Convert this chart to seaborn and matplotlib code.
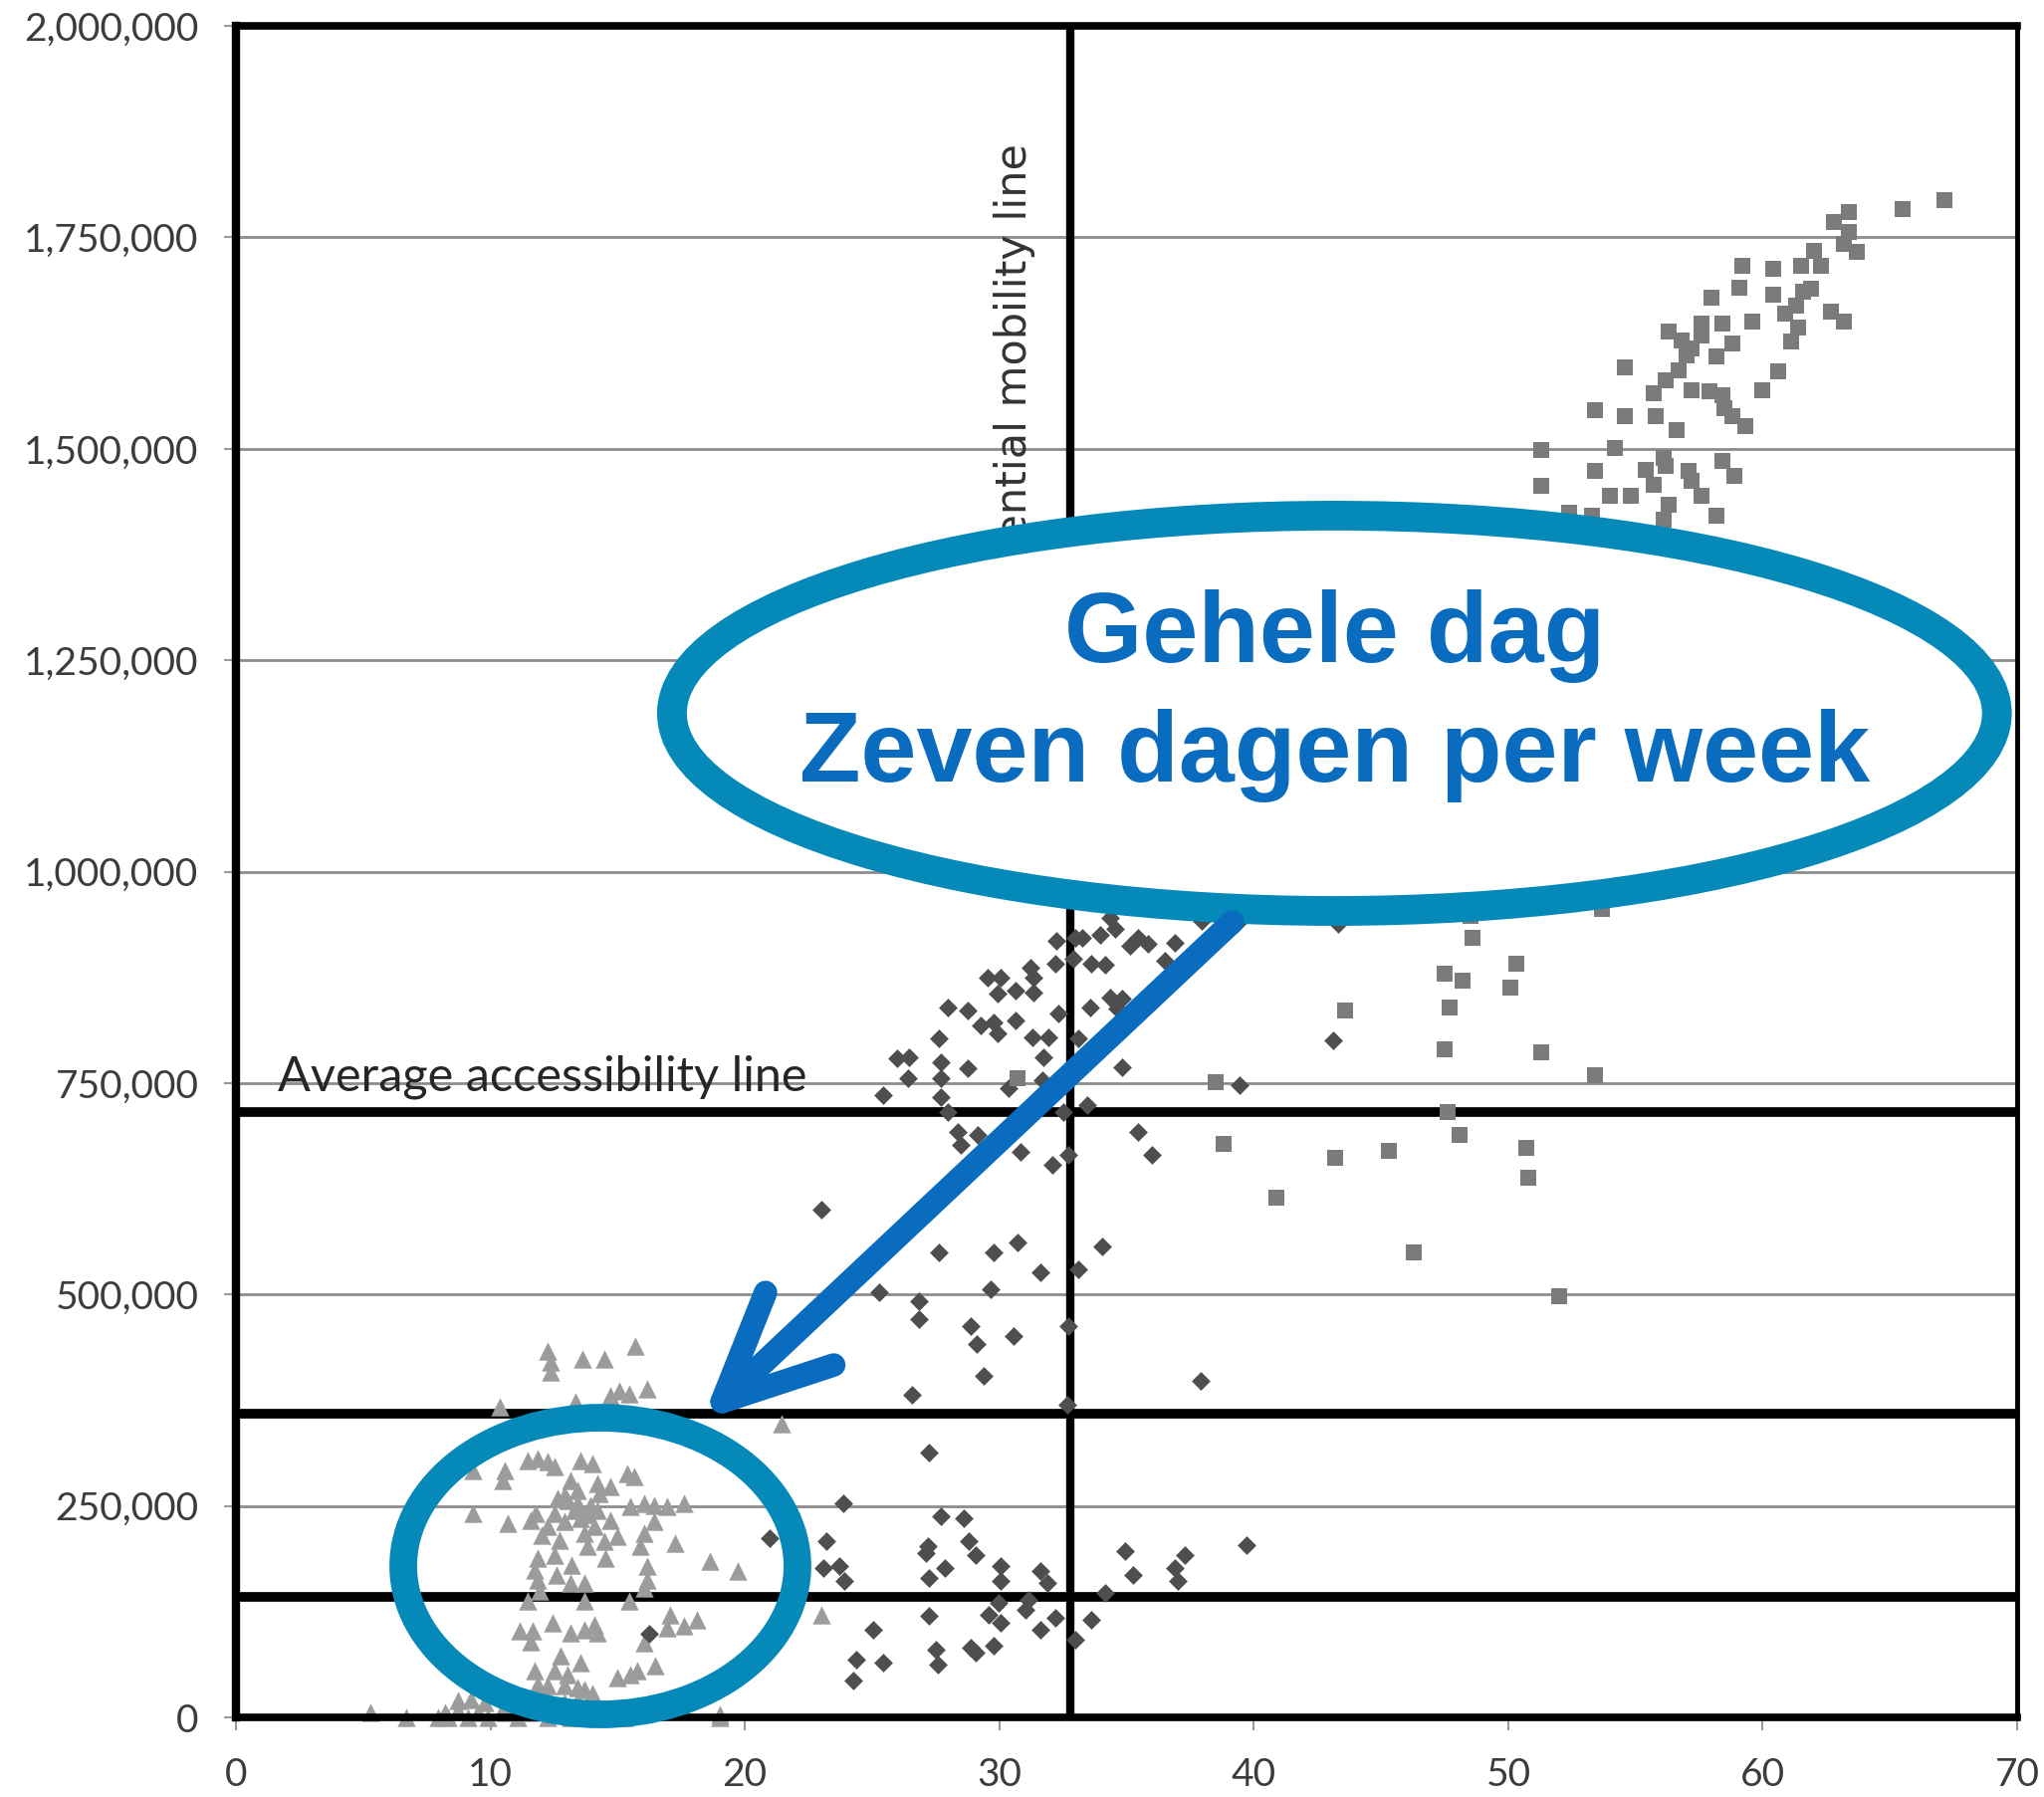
import numpy as np
import pandas as pd
import matplotlib
matplotlib.use("Agg")
import matplotlib.pyplot as plt
import seaborn as sns
from matplotlib.patches import Ellipse
from matplotlib.ticker import FuncFormatter

# ------------------------------------------------------------------ data
# Series 1 (triangles): x, y (in thousands)
tri_x = [12.25, 12.38, 12.38, 13.62, 14.46, 15.70, 16.16, 15.05, 14.72, 15.44,
         13.35, 10.36, 21.44, 11.46, 11.85, 12.25, 12.51, 10.55, 10.49, 9.31,
         13.55, 14.01, 13.16, 13.42, 14.20, 14.72, 15.38, 15.64, 12.64, 13.03,
         13.42, 13.94, 14.20, 12.51, 11.79, 11.59, 12.25, 12.90, 13.55, 14.07,
         14.72, 15.51, 16.03, 16.42, 16.94, 17.59, 16.42, 16.03, 9.31, 10.68,
         13.68, 13.81, 14.46, 14.98, 15.90, 17.27, 14.53, 11.85, 12.51, 11.72,
         11.85, 16.16, 16.16, 16.03, 18.64, 19.74, 13.16, 13.68, 11.46, 13.68,
         15.44, 23.00, 11.14, 11.66, 12.44, 13.16, 13.68, 14.07, 14.20, 17.07,
         16.94, 17.59, 18.11, 16.03, 12.77, 13.55, 11.72, 12.51, 13.03, 14.98,
         15.51, 15.77, 16.48, 11.85, 12.25, 12.90, 13.42, 13.68, 8.72, 9.25,
         9.77, 10.55, 11.20, 11.85, 12.25, 12.90, 13.42, 8.20, 8.72, 9.51,
         10.55, 11.59, 12.51, 13.42, 14.07, 19.03, 8.33, 9.12, 9.90, 11.07,
         12.25, 13.16, 13.94, 15.25, 19.03, 5.30, 6.70, 7.95, 12.90, 13.30,
         12.00, 13.80, 12.70, 11.95, 13.20, 12.60, 14.30, 11.60, 14.00, 12.10]
tri_y_k = [433.6, 419.9, 408.1, 423.8, 423.8, 439.5, 388.5, 386.5, 380.6, 382.6,
           372.8, 366.9, 347.3, 304.1, 306.1, 302.2, 296.3, 292.3, 280.6, 292.3,
           304.1, 300.2, 280.6, 268.8, 276.6, 272.7, 288.4, 284.5, 259.0, 257.0,
           253.1, 251.1, 245.2, 241.3, 241.3, 233.5, 225.6, 231.5, 235.4, 225.6,
           233.5, 249.2, 253.1, 251.1, 249.2, 253.1, 231.5, 217.8, 241.3, 229.6,
           217.8, 202.1, 208.0, 213.9, 202.1, 206.0, 188.4, 188.4, 192.3, 174.6,
           162.8, 178.5, 162.8, 153.0, 184.4, 172.6, 158.9, 158.9, 137.3, 137.3,
           137.3, 121.6, 102.0, 102.0, 111.8, 100.1, 104.0, 109.9, 100.1, 121.6,
           105.9, 107.9, 115.8, 88.3, 72.6, 64.7, 54.9, 54.9, 51.0, 47.1,
           51.0, 54.9, 60.8, 39.2, 37.3, 37.3, 35.3, 33.3, 19.6, 21.6,
           17.7, 13.7, 17.7, 17.7, 15.7, 17.7, 19.6, 5.9, 7.8, 5.9,
           5.9, 5.9, 3.9, 5.9, 5.9, 3.9, 0, 0, 0, 0,
           0, 0, 0, 0, 0, 5.9, 0, 0, 262.0, 245.0,
           215.0, 240.0, 210.0, 150.0, 180.0, 168.0, 265.0, 90.0, 28.0, 26.0]

# Series 2 (diamonds)
dia_x = [32.26, 32.98, 33.24, 33.96, 34.55, 34.35, 35.13, 35.46, 35.85, 36.89,
         36.50, 37.94, 39.37, 32.20, 32.92, 33.63, 34.15, 29.53, 30.05, 31.22,
         31.35, 29.92, 30.63, 31.35, 27.96, 28.74, 32.33, 33.57, 34.35, 34.81,
         34.61, 29.26, 29.79, 29.92, 30.63, 31.29, 31.94, 33.11, 27.63, 26.00,
         26.46, 27.70, 28.74, 31.74, 34.81, 26.40, 27.70, 30.37, 31.68, 25.42,
         27.70, 39.44, 27.96, 32.53, 33.44, 28.35, 29.14, 28.48, 30.83, 32.07,
         32.72, 35.46, 35.98, 23.00, 27.63, 29.79, 30.70, 34.03, 31.61, 33.11,
         29.66, 25.29, 26.85, 26.85, 28.86, 29.13, 30.57, 32.72, 29.39, 26.56,
         32.66, 37.91, 27.22, 23.85, 27.70, 28.61, 23.20, 27.18, 27.11, 28.78,
         29.07, 23.07, 23.72, 23.92, 27.87, 27.22, 30.05, 30.05, 31.61, 31.87,
         34.94, 35.26, 37.28, 36.89, 37.02, 39.70, 34.15, 31.15, 31.02, 29.98,
         29.59, 30.05, 27.24, 32.20, 31.61, 33.63, 32.98, 25.03, 28.87, 29.07,
         29.79, 27.50, 27.57, 24.37, 25.42, 24.24, 16.22, 20.98, 43.30, 43.10]
dia_y_k = [918.2, 922.1, 922.1, 924.9, 931.9, 945.7, 912.3, 922.1, 914.3, 916.3,
           894.7, 941.8, 939.8, 890.8, 896.6, 890.8, 889.6, 875.0, 875.0, 886.8,
           875.0, 855.4, 859.4, 857.4, 839.7, 835.8, 831.9, 839.7, 851.5, 849.6,
           837.8, 818.2, 822.1, 808.4, 824.0, 804.4, 804.4, 802.5, 802.5, 778.9,
           780.9, 775.0, 767.2, 780.9, 769.1, 755.4, 755.4, 743.6, 753.4, 735.8,
           733.8, 747.5, 716.1, 716.1, 724.0, 692.6, 688.7, 676.9, 669.0, 653.4,
           665.1, 692.6, 665.1, 600.4, 549.4, 549.4, 561.1, 557.2, 525.8, 529.7,
           506.2, 502.3, 492.5, 470.9, 463.0, 441.5, 451.3, 463.0, 404.2, 381.8,
           370.0, 397.5, 312.7, 253.1, 238.2, 235.4, 208.0, 202.1, 194.2, 208.0,
           192.3, 176.6, 178.5, 160.9, 176.6, 164.8, 178.5, 160.9, 172.6, 158.9,
           196.2, 168.7, 192.3, 176.6, 160.9, 204.0, 147.2, 139.3, 127.5, 135.4,
           121.6, 111.8, 119.7, 117.7, 104.0, 115.8, 92.2, 104.0, 82.4, 76.5,
           84.4, 80.4, 62.8, 68.7, 64.7, 43.2, 99.3, 211.9, 938.0, 801.0]

# Series 3 (squares)
sq_x = [67.15, 65.5, 63.4, 62.8, 63.4, 63.2, 63.7, 62.0, 62.3, 61.5,
        60.4, 59.2, 59.1, 58.0, 60.4, 61.6, 61.9, 61.3, 60.9, 59.6,
        62.7, 63.2, 61.4, 61.1, 57.6, 58.4, 56.3, 56.8, 57.2, 57.6,
        58.8, 58.2, 57.0, 54.6, 56.7, 56.2, 55.7, 57.2, 57.9, 58.4,
        58.5, 58.8, 59.3, 60.0, 60.6, 53.4, 54.6, 55.8, 56.6, 51.3,
        54.2, 56.1, 56.2, 55.4, 53.4, 51.3, 55.7, 57.1, 57.2, 58.4,
        58.9, 57.6, 54.0, 54.8, 56.3, 58.2, 56.1, 52.4, 53.3, 53.7,
        48.5, 48.6, 50.3, 47.5, 48.2, 50.1, 43.6, 47.7, 47.5, 51.3,
        53.4, 38.5, 47.6, 48.1, 38.8, 43.2, 45.3, 50.7, 50.8, 40.9,
        46.3, 52.0, 30.7]
sq_y_k = [1794.4, 1783.5, 1779.6, 1767.8, 1756.0, 1742.3, 1732.5, 1734.4, 1716.7, 1716.7,
          1712.8, 1716.7, 1690.1, 1678.3, 1682.2, 1685.4, 1689.3, 1669.6, 1659.9, 1650.8,
          1661.9, 1650.1, 1643.0, 1627.3, 1648.1, 1648.1, 1638.3, 1628.5, 1618.7, 1634.3,
          1624.5, 1608.8, 1610.8, 1595.9, 1593.1, 1581.3, 1565.7, 1569.6, 1567.7, 1563.7,
          1548.0, 1538.2, 1526.4, 1569.6, 1591.2, 1546.0, 1538.2, 1538.2, 1522.5, 1498.9,
          1500.9, 1489.1, 1479.3, 1475.4, 1473.4, 1455.8, 1457.8, 1473.4, 1461.7, 1485.2,
          1467.6, 1444.0, 1444.0, 1444.0, 1434.2, 1420.5, 1416.6, 1424.4, 1420.5, 955.5,
          947.6, 922.1, 890.8, 879.0, 871.1, 863.3, 835.8, 839.7, 789.9, 786.0,
          759.3, 751.4, 716.1, 688.7, 677.7, 661.2, 669.8, 673.7, 638.4, 614.9,
          549.4, 498.3, 755.4]

x_ticks = [0, 10, 20, 30, 40, 50, 60, 70]
y_ticks = [0, 250000, 500000, 750000, 1000000, 1250000, 1500000, 1750000, 2000000]
accessibility_lines = [716000, 359000, 142000]   # horizontal reference lines
mobility_line_x = 32.77                          # vertical reference line

avg_label = "Average accessibility line"
mob_label = "Potential mobility line"
bubble_lines = ["Gehele dag", "Zeven dagen per week"]

# ------------------------------------------------------------------ style
sns.set_style("white")
plt.rcParams["font.family"] = ["Lato", "DejaVu Sans"]

df = pd.concat([
    pd.DataFrame({"x": tri_x, "y": np.array(tri_y_k) * 1000, "group": "tri"}),
    pd.DataFrame({"x": dia_x, "y": np.array(dia_y_k) * 1000, "group": "dia"}),
    pd.DataFrame({"x": sq_x, "y": np.array(sq_y_k) * 1000, "group": "sq"}),
], ignore_index=True)

W, H = 2053, 1805
fig = plt.figure(figsize=(W / 100, H / 100), dpi=100)
fig.patch.set_facecolor("white")
ax = fig.add_axes([237 / W, 1 - 1725 / H, (2026 - 237) / W, (1725 - 26) / H])
ax.set_facecolor("white")

styles = {
    "tri": dict(marker="^", color="#9c9c9c", s=175),
    "dia": dict(marker="D", color="#4e4e4e", s=92),
    "sq": dict(marker="s", color="#7b7b7b", s=125),
}
for grp, st in styles.items():
    sns.scatterplot(data=df[df["group"] == grp], x="x", y="y", ax=ax,
                    marker=st["marker"], color=st["color"], s=st["s"],
                    linewidth=0, zorder=3, clip_on=False, legend=False)

ax.set_xlim(0, 70)
ax.set_ylim(0, 2000000)
ax.set_xticks(x_ticks)
ax.set_yticks(y_ticks)
ax.yaxis.set_major_formatter(FuncFormatter(lambda v, p: f"{int(round(v)):,}"))
ax.set_xlabel("")
ax.set_ylabel("")

ax.set_axisbelow(True)
ax.grid(axis="y", color="#8c8c8c", lw=2)
ax.grid(axis="x", visible=False)

ax.tick_params(axis="both", which="major", direction="out", length=9, width=1.5,
               color="#9a9a9a", labelsize=28, labelcolor="#3c3c3c",
               left=True, bottom=True)
ax.tick_params(axis="y", pad=18)
ax.tick_params(axis="x", pad=20)

for side, lw in [("top", 5.5), ("left", 6), ("bottom", 5.5), ("right", 3.5)]:
    ax.spines[side].set_visible(True)
    ax.spines[side].set_color("black")
    ax.spines[side].set_linewidth(lw)
    ax.spines[side].set_zorder(4)

# reference lines
for yv in accessibility_lines:
    ax.axhline(yv, color="black", lw=7, zorder=2)
ax.axvline(mobility_line_x, color="black", lw=6, zorder=2)

ax.text(1.64, 741600, avg_label, fontsize=35, color="#262626",
        ha="left", va="baseline", zorder=2.5)
ax.text(30.6, 1861000, mob_label, fontsize=31, color="#333333", rotation=90,
        ha="center", va="top", family=["DejaVu Sans"], zorder=2.5)

# big callout ellipse
teal = "#0489b9"
ax.add_patch(Ellipse((43.17, 1187200), width=52.07, height=467400,
                     facecolor="white", edgecolor=teal, lw=21.5, zorder=5))
ax.text(43.17, 1247800, bubble_lines[0], fontsize=72.5, fontweight="bold",
        color="#0a6cbf", ha="center", va="baseline",
        family=["Liberation Sans", "DejaVu Sans"], zorder=6)
ax.text(43.17, 1106600, bubble_lines[1], fontsize=72.5, fontweight="bold",
        color="#0a6cbf", ha="center", va="baseline",
        family=["Liberation Sans", "DejaVu Sans"], zorder=6)

# small ellipse around cluster
ax.add_patch(Ellipse((14.32, 178900), width=15.49, height=350800,
                     facecolor="none", edgecolor=teal, lw=20, zorder=6,
                     clip_on=False))

# arrow
ax.annotate("", xy=(18.31, 350800), xytext=(39.16, 940600),
            arrowprops=dict(arrowstyle="->,head_length=77,head_width=36",
                            mutation_scale=1, lw=17, color="#0a6cbf",
                            shrinkA=0, shrinkB=0, capstyle="round",
                            joinstyle="round"),
            zorder=7)

fig.savefig("out.png", dpi=100, facecolor="white")
